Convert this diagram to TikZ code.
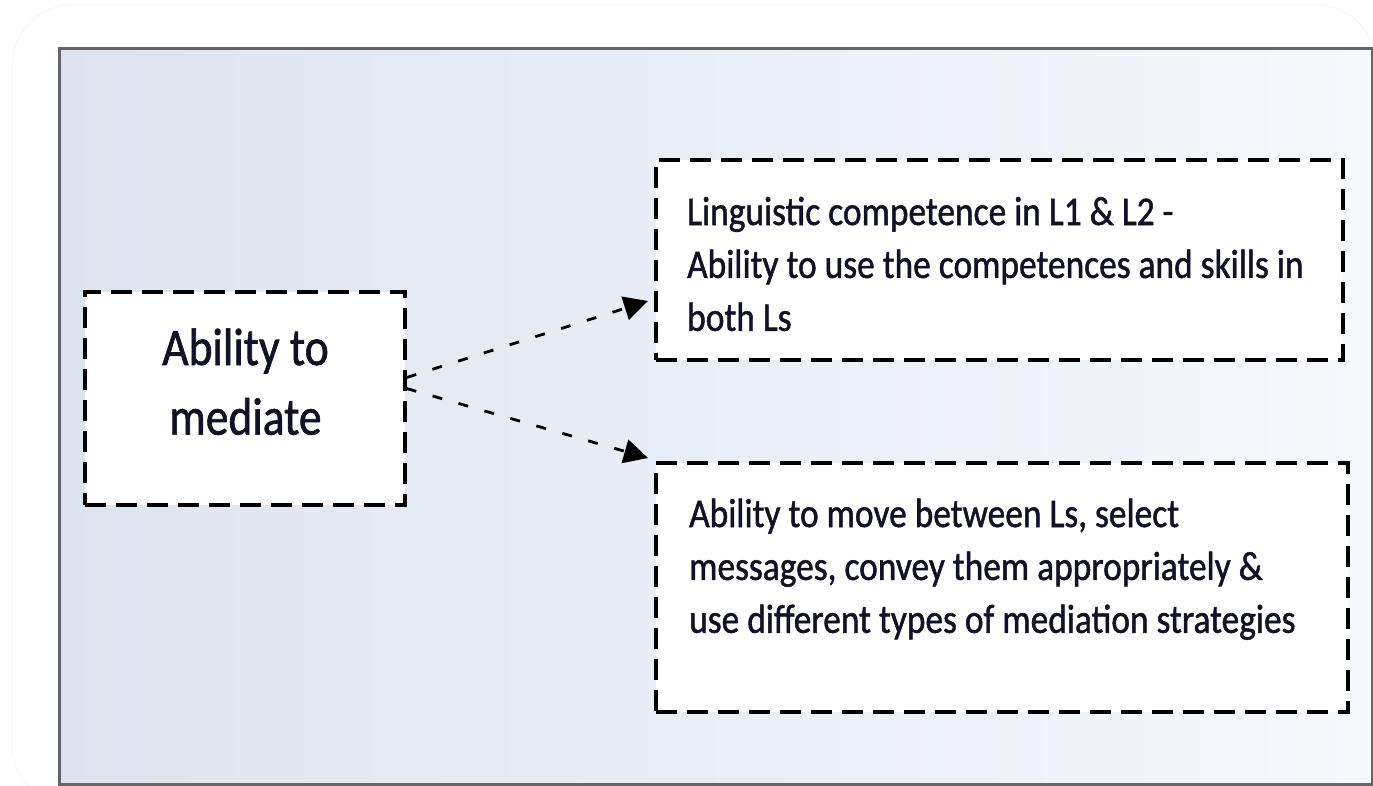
\documentclass[tikz,border=0pt]{standalone}
\usepackage{fontspec}
\setmainfont{Carlito}
\newfontfamily\heavyfont{Carlito}[FakeBold=1.3]
\usetikzlibrary{arrows.meta}
\definecolor{bgleft}{RGB}{220,229,239}
\definecolor{bgright}{RGB}{246,248,252}
\definecolor{framec}{RGB}{102,102,102}
\definecolor{textc}{RGB}{18,18,38}
\definecolor{faintc}{RGB}{245,246,247}
\tikzset{
  dbox/.style={draw=black, fill=white, line width=3.2pt, dash pattern=on 21pt off 10pt, inner sep=0pt},
  txt/.style={text=textc, inner sep=0pt, font=\heavyfont},
  darrow/.style={draw=black, line width=2.8pt, dash pattern=on 10pt off 17pt, -{Triangle[length=24pt,width=24pt]}}
}
\begin{document}
\begin{tikzpicture}[x=1pt,y=-1pt]
\useasboundingbox (0,0) rectangle (1373,785);
% faint outer rounded outline
\draw[faintc, line width=1pt, rounded corners=60pt] (12,5) rectangle (1376,805);
% main panel
\shade[left color=bgleft, right color=bgright] (59.5,48) rectangle (1372,784);
\draw[framec, line width=3pt] (59.5,48) rectangle (1372,784);
% boxes
\node[dbox, minimum width=320pt, minimum height=213pt] (src) at (245,398.5) {};
\node[dbox, minimum width=687pt, minimum height=200pt] (top) at (999.5,260) {};
\node[dbox, minimum width=692pt, minimum height=249pt] (bot) at (1002,587.5) {};
% texts
\node[txt, anchor=base] (srctext) at (245.5,365) {\fontsize{45.5}{60}\selectfont\scalebox{1}[1.16]{\begin{tabular}[t]{@{}c@{}}Ability to\\mediate\end{tabular}}};
\node[txt, anchor=base west] (toptext) at (687,225) {\fontsize{35.4}{46}\selectfont\scalebox{1}[1.15]{\begin{tabular}[t]{@{}l@{}}Linguistic competence in L1 \& L2 -\\Ability to use the competences and skills in\\both Ls\end{tabular}}};
\node[txt, anchor=base west] (bottext) at (689,527) {\fontsize{35.4}{46}\selectfont\scalebox{1}[1.15]{\begin{tabular}[t]{@{}l@{}}Ability to move between Ls, select\\messages, convey them appropriately \&\\use different types of mediation strategies\end{tabular}}};
% arrows
\coordinate (tipA) at (648,301);
\coordinate (tipB) at (648,458);
\draw[darrow] ([yshift=21pt]src.east) -- (tipA);
\draw[darrow] ([yshift=10pt]src.east) -- (tipB);
\end{tikzpicture}
\end{document}
